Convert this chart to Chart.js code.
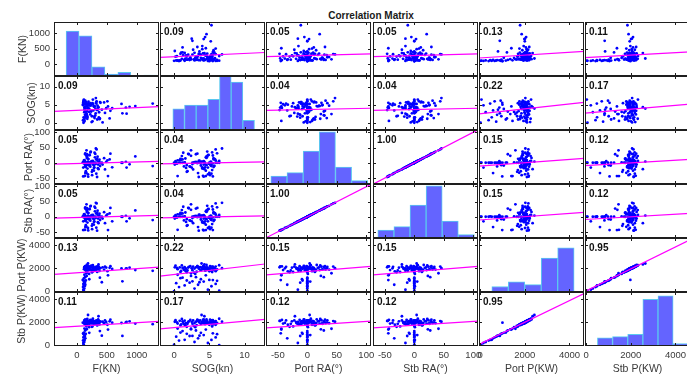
<!DOCTYPE html>
<html>
<head>
<meta charset="utf-8">
<title>Correlation Matrix</title>
<script src="https://cdn.jsdelivr.net/npm/chart.js@4.4.1/dist/chart.umd.min.js"></script>
<style>
  html, body { margin: 0; padding: 0; background: #ffffff; }
  body { position: relative; width: 687px; height: 377px; overflow: hidden;
         font-family: "Liberation Sans", Arial, Helvetica, sans-serif; }
  canvas { position: absolute; }
  .title { position: absolute; font-weight: bold; font-size: 10px; color: #1a1a1a;
           transform: translate(-50%, -50%); white-space: nowrap; }
  .xlab { position: absolute; font-size: 10.5px; color: #3a3a3a;
          transform: translate(-50%, -50%); white-space: nowrap; }
  .ylab { position: absolute; font-size: 10.5px; color: #3a3a3a;
          transform: translate(-50%, -50%) rotate(-90deg); white-space: nowrap; }
</style>
</head>
<body>
<div class="title" style="left:371px; top:15px;">Correlation Matrix</div>
<script>
// ---- measurements (one entry per record) ----
const F = [
  112,118,108,125,104,131,115,142,110,122,136,417,760,128,114,150,106,100,208,119,385,140,165,520,127,
  1265,975,830,818,880,745,547,590,490,430,455,470,510,560,
  132,145,158,171,186,120,139,162,178,195,127,150,166,183,141,155,190,135,148,175,199,124,160,187,143,169,153,180,137,
  205,218,232,247,260,275,288,302,315,330,345,362,378,395,210,225,240,255,268,282,296,310,325,340,356,372,388,
  214,236,251,273,291,308,322,338,351,367,228,262,284,318,346
];
const SOG = [
  0.0,6.4,4.8,2.9,0.7,5.3,1.5,3.4,5.9,0.3,2.2,3.6,2.6,4.2,6.1,1.8,5.5,5.0,3.8,0.9,1.2,3.1,2.4,4.5,0.5,
  5.3,4.6,2.5,4.2,4.4,5.2,1.2,4.0,4.0,0.1,5.6,2.7,5.9,3.3,
  4.3,1.4,5.5,3.2,4.8,0.5,5.1,2.4,4.0,5.8,3.7,1.9,4.6,5.3,6.1,2.8,4.2,3.5,5.6,1.1,4.9,0.8,5.0,3.9,4.4,2.1,
  5.7,1.6,4.1,3.0,5.2,4.7,0.2,5.4,3.4,1.7,4.5,2.6,5.9,3.6,4.3,1.0,5.5,4.9,2.3,3.1,5.1,6.4,4.6,1.3,3.8,5.3,
  0.9,4.2,2.9,5.7,4.8,3.3,1.8,5.2,4.4,2.0,5.6,3.5,4.1,1.5,5.4,0.4,4.5,6.8,4.7
];
const portRA = [
  0,0,-16,0,0,0,0,-34,0,0,-12,0,0,5,0,-8,-45,0,-9,0,0,28,23,-44,-44,
  -11,21,-16,3,-5,0,11,-15,3,-6,15,-22,8,30,
  3,-12,24,0,-38,8,-5,41,-19,12,2,-28,16,-7,31,0,-46,6,-14,22,-3,9,-33,4,-1,28,-10,14,-43,1,
  -9,37,5,-24,0,-17,18,-4,44,7,-21,10,-2,26,-13,3,-41,6,-8,33,0,-36,13,-6,2,-11,25,-1,-30,4,
  -15,29,11,-47,-18,1,34,-3,-26,47,20
];
const stbRA = [
  0,0,-15,0,0,1,0,-34,0,0,-12,0,0,5,0,-8,-44,0,-9,0,0,27,23,-44,-43,
  -11,21,-15,3,-5,0,11,-15,4,-6,15,-21,8,29,
  3,-12,24,0,-37,8,-5,41,-19,12,2,-28,16,-7,31,0,-45,6,-14,22,-3,9,-33,4,-1,28,-10,14,-43,1,
  -9,36,5,-24,0,-17,18,-4,44,7,-21,10,-2,26,-13,3,-41,6,-8,33,0,-36,13,-6,2,-11,25,-1,-30,4,
  -15,29,11,-46,-18,1,34,-3,-26,46,20
];
const portP = [
  20,60,150,250,380,450,520,580,650,720,760,800,880,860,920,950,990,1000,1060,1150,1200,1240,1350,1400,1450,
  1790,1860,2010,1980,2060,2000,2050,1950,2080,2100,1890,2150,1760,2200,
  2080,1880,2150,1720,2010,1940,2200,1580,2060,1960,2120,1820,2300,2040,1910,1640,2170,2005,1870,2260,
  1990,2090,1750,2430,1930,2130,2020,1800,2180,1520,2070,1900,2240,1690,2110,1980,2050,1850,2160,1950,
  2350,1780,2030,1920,2190,2100,1860,2280,1970,2015,1840,2140,1700,2220,1985,2035,1890,2210,1660,2055,
  1810,2075,1930,2095,1960,2115,2135,2045,2065,2025,2085
];
const stbP = [
  60,30,210,300,420,480,490,620,700,760,820,850,830,900,980,1010,1050,1980,1100,1120,1250,1300,1400,1380,1470,
  1850,1900,2050,2010,2100,1950,2100,1980,2040,2060,1930,2180,1800,2240,
  2120,1850,2190,1760,1960,1900,2240,1450,2030,1990,2170,1880,2260,2090,1950,1700,2130,2050,1830,2310,
  1960,2140,1800,2650,1970,2100,1980,1760,2220,1590,2110,1940,2200,1650,2150,1940,2090,1890,2120,1990,
  2540,1830,2070,1880,2230,2060,1900,2320,1930,1975,1870,2180,1740,2260,1960,2080,1920,2170,1620,2100,
  1850,2040,1960,2130,1920,2150,2170,2010,2100,2060,2120
];

const variables = [F, SOG, portRA, stbRA, portP, stbP];
const varNames = ['F(KN)', 'SOG(kn)', 'Port RA(°)', 'Stb RA(°)', 'Port P(KW)', 'Stb P(KW)'];

// axis limits and tick values shared by every panel in a row / column
const axisMin = [-380, -2, -70, -70, -50, -50];
const axisMax = [1370, 12.9, 108, 108, 4650, 4650];
const tickValues = [
  [0, 500, 1000],
  [0, 5, 10],
  [-50, 0, 50, 100],
  [-50, 0, 50, 100],
  [0, 2000, 4000],
  [0, 2000, 4000]
];

// pairwise correlation coefficients printed in each scatter panel
const corrR = [
  [null, 0.09, 0.05, 0.05, 0.13, 0.11],
  [0.09, null, 0.04, 0.04, 0.22, 0.17],
  [0.05, 0.04, null, 1.00, 0.15, 0.12],
  [0.05, 0.04, 1.00, null, 0.15, 0.12],
  [0.13, 0.22, 0.15, 0.15, null, 0.95],
  [0.11, 0.17, 0.12, 0.12, 0.95, null]
];

// histograms on the diagonal (own bin axes)
const histStart  = [0, 0, -60, -60, 0, 0];
const histWidth  = [200, 1, 20, 20, 500, 500];
const histCounts = [
  [49, 44, 10, 2, 4, 0, 1],
  [11, 13, 13, 16, 28, 25, 5],
  [7, 10, 29, 46, 15, 3],
  [7, 10, 29, 46, 15, 3],
  [6, 11, 8, 37, 48],
  [7, 8, 10, 40, 43, 2]
];
const histAxisMin = [-187, -1.1, -66, -66, -390, -410];
const histAxisMax = [1436, 7.9, 64, 64.5, 2800, 3057];
const histCountMax = [59, 28.2, 47.6, 47.6, 58.8, 46.3];

// ---- layout & style ----
const FONT = '"Liberation Sans", Arial, Helvetica, sans-serif';
const TICK_COLOR = '#3a3a3a';
const FRAME_COLOR = '#1e1e1e';
const DOT_COLOR = 'rgb(0,0,255)';
const FIT_COLOR = 'rgb(255,0,255)';
const BAR_FILL = 'rgb(100,100,255)';
const BAR_EDGE = 'rgb(90,200,240)';
const TICK_LEN = 3;
const CELL_W = 105, CELL_H = 54;
const Y_AXIS_W = 56, X_AXIS_H = 31;
const colLeft = j => Math.round(54 + j * 106.2);
const rowTop = i => 22 + i * 54;
const yTitleX = [22, 31, 28, 28, 21, 21];

const mean = a => a.reduce((s, v) => s + v, 0) / a.length;
const sd = a => { const m = mean(a); return Math.sqrt(a.reduce((s, v) => s + (v - m) * (v - m), 0) / (a.length - 1)); };

// frame, inward tick marks and coefficient text for one panel
const cellFrame = {
  id: 'cellFrame',
  afterDraw(chart, args, opts) {
    const { ctx, chartArea: a } = chart;
    const xs = chart.scales.x, ys = chart.scales.y;
    const L = Math.round(a.left), R = Math.round(a.right), T = Math.round(a.top), B = Math.round(a.bottom);
    ctx.save();
    ctx.strokeStyle = FRAME_COLOR;
    ctx.lineWidth = 1;
    ctx.beginPath();
    opts.xTicks.forEach(v => {
      const p = Math.round(xs.getPixelForValue(v)) + 0.5;
      if (p > L + 1 && p < R - 1) {
        ctx.moveTo(p, B); ctx.lineTo(p, B - TICK_LEN);
        ctx.moveTo(p, T); ctx.lineTo(p, T + TICK_LEN);
      }
    });
    opts.yTicks.forEach(v => {
      const p = Math.round(ys.getPixelForValue(v)) + 0.5;
      if (p > T + 1 && p < B - 1) {
        ctx.moveTo(L, p); ctx.lineTo(L + TICK_LEN, p);
        ctx.moveTo(R, p); ctx.lineTo(R - TICK_LEN, p);
      }
    });
    ctx.stroke();
    ctx.strokeRect(L + 0.5, T + 0.5, R - L - 1, B - T - 1);
    if (opts.text) {
      ctx.fillStyle = '#111111';
      ctx.font = 'bold 10px ' + FONT;
      ctx.textAlign = 'left';
      ctx.textBaseline = 'middle';
      ctx.fillText(opts.text, L + 4, T + 10);
    }
    ctx.restore();
  }
};

function xAxis(j, showLabels) {
  return {
    type: 'linear', position: 'bottom', min: axisMin[j], max: axisMax[j], offset: false,
    grid: { display: false, drawTicks: false }, border: { display: false },
    ticks: { display: showLabels, autoSkip: false, maxRotation: 0, minRotation: 0, padding: 4,
             color: TICK_COLOR, font: { family: FONT, size: 9.5 }, callback: v => String(v) },
    afterBuildTicks: s => { s.ticks = tickValues[j].map(v => ({ value: v })); },
    afterFit: s => { s.height = showLabels ? X_AXIS_H : 0; s.paddingLeft = 0; s.paddingRight = 0; }
  };
}
function yAxis(i, showLabels) {
  return {
    type: 'linear', position: 'left', min: axisMin[i], max: axisMax[i],
    grid: { display: false, drawTicks: false }, border: { display: false },
    ticks: { display: showLabels, autoSkip: false, padding: 4,
             color: TICK_COLOR, font: { family: FONT, size: 9.5 }, callback: v => String(v) },
    afterBuildTicks: s => { s.ticks = tickValues[i].map(v => ({ value: v })); },
    afterFit: s => { s.width = showLabels ? Y_AXIS_W : 0; s.paddingTop = 0; s.paddingBottom = 0; }
  };
}

function makeCell(i, j) {
  const leftAxis = j === 0, bottomAxis = i === 5;
  const padL = leftAxis ? 0 : 12, padR = 16, padT = 6, padB = bottomAxis ? 0 : 6;
  const yW = leftAxis ? Y_AXIS_W : 0, xH = bottomAxis ? X_AXIS_H : 0;
  const w = padL + yW + CELL_W + padR, h = padT + CELL_H + xH + padB;
  const cv = document.createElement('canvas');
  cv.width = w; cv.height = h;
  cv.style.left = (colLeft(j) - padL - yW) + 'px';
  cv.style.top = (rowTop(i) - padT) + 'px';
  cv.style.width = w + 'px'; cv.style.height = h + 'px';
  document.body.appendChild(cv);

  const scales = { x: xAxis(j, bottomAxis), y: yAxis(i, leftAxis) };
  let type, datasets;

  if (i === j) {
    type = 'bar';
    scales.xh = { type: 'linear', display: false, offset: false, min: histAxisMin[i], max: histAxisMax[i] };
    scales.yh = { type: 'linear', display: false, min: 0, max: histCountMax[i] };
    datasets = [{
      data: histCounts[i].map((c, k) => ({ x: histStart[i] + (k + 0.5) * histWidth[i], y: c })),
      xAxisID: 'xh', yAxisID: 'yh',
      backgroundColor: BAR_FILL, borderColor: BAR_EDGE, borderWidth: 1,
      barPercentage: 1, categoryPercentage: 1, barThickness: 'flex', clip: 0
    }];
  } else {
    type = 'scatter';
    const xv = variables[j], yv = variables[i];
    const r = corrR[i][j];
    const slope = r * sd(yv) / sd(xv);
    const icpt = mean(yv) - slope * mean(xv);
    datasets = [
      { type: 'line', data: [axisMin[j], axisMax[j]].map(x => ({ x, y: icpt + slope * x })),
        borderColor: FIT_COLOR, borderWidth: 1.2, pointRadius: 0, fill: false, clip: 0 },
      { type: 'scatter', data: xv.map((x, k) => ({ x, y: yv[k] })),
        backgroundColor: DOT_COLOR, borderWidth: 0, pointRadius: 1.4, clip: 0 }
    ];
  }

  new Chart(cv, {
    type,
    data: { datasets },
    plugins: [cellFrame],
    options: {
      responsive: false, animation: false, devicePixelRatio: 1, events: [],
      layout: { padding: { left: padL, right: padR, top: padT, bottom: padB } },
      scales,
      plugins: {
        legend: { display: false }, tooltip: { enabled: false },
        cellFrame: { xTicks: tickValues[j], yTicks: tickValues[i],
                     text: i === j ? '' : corrR[i][j].toFixed(2) }
      }
    }
  });
}

for (let i = 0; i < 6; i++) {
  for (let j = 0; j < 6; j++) makeCell(i, j);
}

// axis titles
varNames.forEach((name, k) => {
  const xl = document.createElement('div');
  xl.className = 'xlab';
  xl.textContent = name;
  xl.style.left = (colLeft(k) + CELL_W / 2) + 'px';
  xl.style.top = '368px';
  document.body.appendChild(xl);

  const yl = document.createElement('div');
  yl.className = 'ylab';
  yl.textContent = name;
  yl.style.left = yTitleX[k] + 'px';
  yl.style.top = (rowTop(k) + CELL_H / 2) + 'px';
  document.body.appendChild(yl);
});
</script>
</body>
</html>
